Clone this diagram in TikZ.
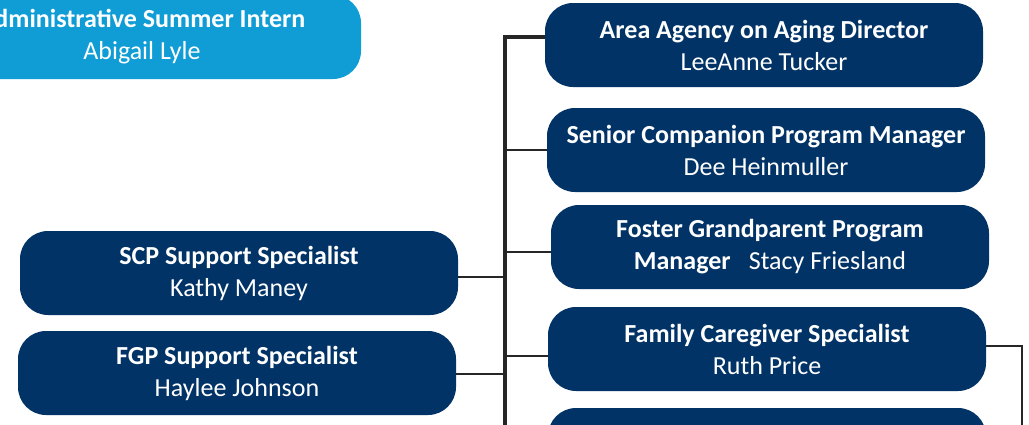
\documentclass[tikz,border=0pt]{standalone}
\usepackage{fontspec}
\setmainfont{Carlito}
\usepackage{tikz}
\usetikzlibrary{positioning}

\definecolor{navy}{RGB}{1,51,102}
\definecolor{skyblue}{RGB}{16,157,214}

\begin{document}
\begin{tikzpicture}[x=1pt, y=-1pt,
    % node attributes
    every node/.style = {
        align=center,
        text=white,
        font=\fontsize{26}{32}\selectfont},
    postbox/.style = {
        rounded corners=28pt,
        minimum width=438pt,
        minimum height=84pt,
        inner sep=0pt,
        fill=navy},
    internbox/.style = {postbox, fill=skyblue},
    link/.style = {draw=black!85, line width=2pt},
    trunk/.style = {draw=black!85, line width=3.4pt}]
    \useasboundingbox (0,0) rectangle (1029,424);
    \clip (0,0) rectangle (1029,424);
    % boxes
    \node[internbox] (intern) at (142,37) {\textbf{Administrative Summer Intern}\\Abigail Lyle};
    \node[postbox] (director) at (764,45) {\textbf{Area Agency on Aging Director}\\LeeAnne Tucker};
    \node[postbox] (scpmgr) at (766,150) {\textbf{Senior Companion Program Manager}\\Dee Heinmuller};
    \node[postbox] (fgpmgr) at (770,247) {\textbf{Foster Grandparent Program}\\\textbf{Manager}\hspace{0.7em}Stacy Friesland};
    \node[postbox] (caregiver) at (767,349) {\textbf{Family Caregiver Specialist}\\Ruth Price};
    \node[postbox] (nextbox) at (767,450) {};
    \node[postbox] (scpsup) at (239,273) {\textbf{SCP Support Specialist}\\Kathy Maney};
    \node[postbox] (fgpsup) at (237,373) {\textbf{FGP Support Specialist}\\Haylee Johnson};
    % layout connectors
    \coordinate (top) at (505,37);
    \coordinate (bottom) at (505,440);
    \coordinate (side) at (1022,346);
    \draw[trunk] (director.west |- top) -- (top) -- (bottom);
    \draw[link] (scpmgr.west) -- (scpmgr.west -| top);
    \draw[link] ([yshift=-5pt]fgpmgr.west) -- ([yshift=-5pt]fgpmgr.west -| top);
    \draw[link] ([yshift=-7pt]caregiver.west) -- ([yshift=-7pt]caregiver.west -| top);
    \draw[link] ([yshift=-4pt]scpsup.east) -- ([yshift=-4pt]scpsup.east -| top);
    \draw[link] ([yshift=-1pt]fgpsup.east) -- ([yshift=-1pt]fgpsup.east -| top);
    \draw[link] (caregiver.east |- side) -- (side) -- (side |- bottom);
\end{tikzpicture}
\end{document}
